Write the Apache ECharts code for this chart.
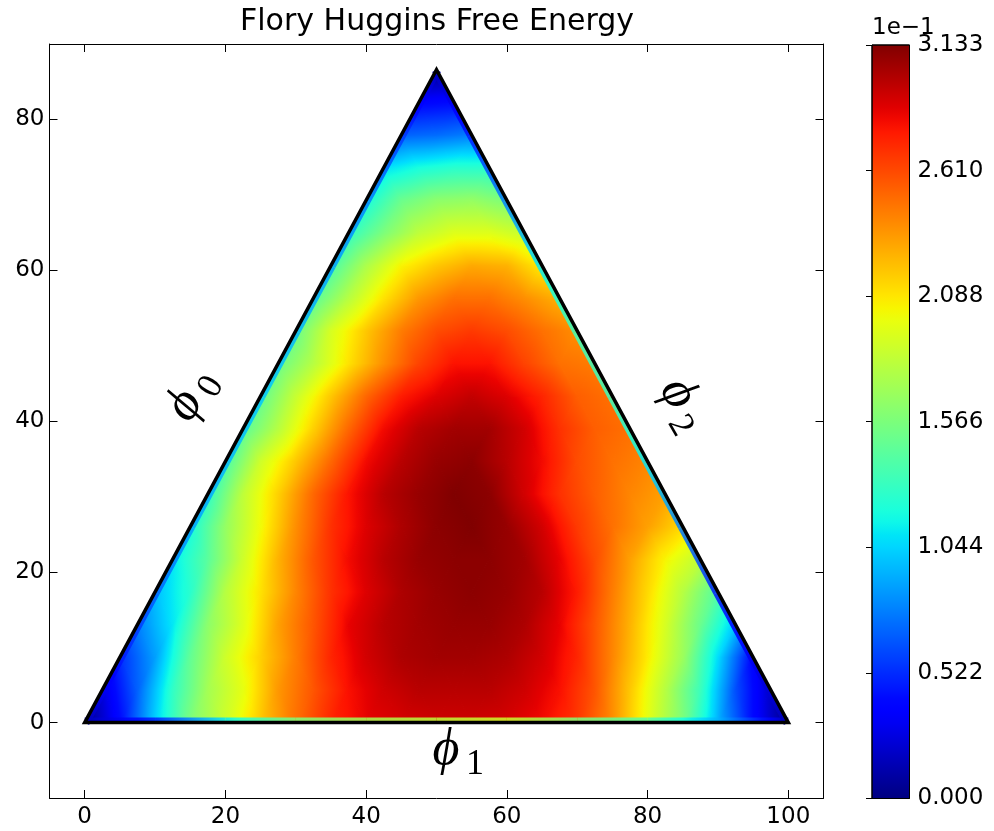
<!DOCTYPE html>
<html><head><meta charset="utf-8">
<script src="https://cdn.jsdelivr.net/npm/echarts@6/dist/echarts.min.js"></script>
<style>html,body{margin:0;padding:0;background:#fff}#chart{width:994px;height:831px}</style>
</head><body><div id="chart"></div>
<script>
// ---------------- data ----------------
const titleText = 'Flory Huggins Free Energy';
const xTicks = [0, 20, 40, 60, 80, 100];
const yTicks = [0, 20, 40, 60, 80];
const colorbarMax = 0.313255;
const colorbarTicks = [0, 0.052209, 0.104418, 0.156628, 0.208837, 0.261046, 0.313255];
const colorbarTickLabels = ['0.000', '0.522', '1.044', '1.566', '2.088', '2.610', '3.133'];
const colorbarOffsetText = '1e\u22121';

// ternary lattice (side 100, step 5); row j lies at height j*step*sqrt(3)/2,
// its points start at x = j*step/2 and go right in steps of 5
const sideLength = 100;
const latticeStep = 5;
const row00 = [0, 0.041, 0.103, 0.157, 0.188, 0.219, 0.248, 0.273, 0.285, 0.290, 0.292, 0.292, 0.290, 0.282, 0.267, 0.238, 0.197, 0.157, 0.094, 0.041, 0];
const row01 = [0.025, 0.069, 0.128, 0.172, 0.197, 0.235, 0.257, 0.280, 0.292, 0.298, 0.298, 0.298, 0.292, 0.280, 0.257, 0.219, 0.179, 0.132, 0.063, 0.019];
const row02 = [0.053, 0.088, 0.147, 0.188, 0.216, 0.244, 0.273, 0.291, 0.301, 0.304, 0.304, 0.301, 0.291, 0.273, 0.241, 0.207, 0.169, 0.107, 0.038];
const row03 = [0.078, 0.110, 0.163, 0.194, 0.232, 0.257, 0.285, 0.298, 0.304, 0.307, 0.307, 0.301, 0.285, 0.257, 0.226, 0.191, 0.150, 0.100];
const row04 = [0.097, 0.125, 0.179, 0.210, 0.241, 0.269, 0.288, 0.301, 0.307, 0.310, 0.307, 0.298, 0.276, 0.244, 0.213, 0.179, 0.141];
const row05 = [0.110, 0.144, 0.188, 0.226, 0.257, 0.282, 0.298, 0.307, 0.310, 0.310, 0.304, 0.285, 0.260, 0.232, 0.204, 0.182];
const row06 = [0.119, 0.166, 0.201, 0.238, 0.269, 0.288, 0.301, 0.310, 0.313, 0.307, 0.291, 0.266, 0.248, 0.232, 0.213];
const row07 = [0.128, 0.182, 0.216, 0.251, 0.279, 0.298, 0.307, 0.313, 0.310, 0.291, 0.269, 0.254, 0.241, 0.232];
const row08 = [0.138, 0.188, 0.219, 0.251, 0.282, 0.298, 0.307, 0.310, 0.298, 0.282, 0.260, 0.248, 0.241];
const row09 = [0.144, 0.179, 0.216, 0.251, 0.282, 0.298, 0.304, 0.304, 0.291, 0.269, 0.254, 0.248];
const row10 = [0.147, 0.185, 0.219, 0.251, 0.276, 0.288, 0.295, 0.288, 0.273, 0.254, 0.248];
const row11 = [0.150, 0.179, 0.210, 0.238, 0.263, 0.279, 0.279, 0.263, 0.248, 0.244];
const row12 = [0.150, 0.191, 0.219, 0.244, 0.260, 0.266, 0.260, 0.248, 0.238];
const row13 = [0.144, 0.179, 0.210, 0.235, 0.248, 0.248, 0.238, 0.226];
const row14 = [0.138, 0.175, 0.204, 0.219, 0.229, 0.226, 0.207];
const row15 = [0.128, 0.157, 0.182, 0.194, 0.194, 0.185];
const row16 = [0.119, 0.150, 0.163, 0.166, 0.157];
const row17 = [0.107, 0.119, 0.125, 0.125];
const row18 = [0.069, 0.072, 0.078];
const row19 = [0.038, 0.041];
const row20 = [0];
const valueRows = [row00, row01, row02, row03, row04, row05, row06, row07, row08, row09, row10,
  row11, row12, row13, row14, row15, row16, row17, row18, row19, row20];

// values of the speckled samples that sit right on each side of the triangle
// (11 samples per side, from the first corner towards the second)
const bottomSideValues = [0.016, 0.047, 0.110, 0.157, 0.172, 0.182, 0.188, 0.157, 0.141, 0.094, 0.016]; // (0,0) -> (100,0)
const leftSideValues = [0.016, 0.047, 0.069, 0.088, 0.094, 0.100, 0.094, 0.088, 0.078, 0.056, 0.016];   // (0,0) -> apex
const rightSideValues = [0.016, 0.031, 0.047, 0.078, 0.110, 0.132, 0.132, 0.110, 0.078, 0.047, 0.016];  // (100,0) -> apex

// ---------------- colormap (matplotlib jet) ----------------
const jetR = [[0, 0], [0.35, 0], [0.66, 1], [0.89, 1], [1, 0.5]];
const jetG = [[0, 0], [0.125, 0], [0.375, 1], [0.64, 1], [0.91, 0], [1, 0]];
const jetB = [[0, 0.5], [0.11, 1], [0.34, 1], [0.65, 0], [1, 0]];
function seg(tab, t) {
  if (t <= tab[0][0]) return tab[0][1];
  for (let k = 1; k < tab.length; k++) {
    if (t <= tab[k][0]) {
      const a = tab[k - 1], b = tab[k];
      return a[1] + (b[1] - a[1]) * (t - a[0]) / (b[0] - a[0]);
    }
  }
  return tab[tab.length - 1][1];
}
function jet(t) {
  t = Math.max(0, Math.min(1, t));
  return 'rgb(' + Math.round(255 * seg(jetR, t)) + ',' + Math.round(255 * seg(jetG, t)) + ',' + Math.round(255 * seg(jetB, t)) + ')';
}

// ---------------- cells (triangles of the lattice) ----------------
const rowHeight = latticeStep * Math.sqrt(3) / 2;
function latticePoint(j, i) {
  return [j * latticeStep / 2 + i * latticeStep, j * rowHeight, valueRows[j][i]];
}
const cells = [];
for (let j = 0; j < valueRows.length - 1; j++) {
  const n = valueRows[j].length;
  for (let i = 0; i < n - 1; i++) {
    cells.push([].concat(latticePoint(j, i), latticePoint(j, i + 1), latticePoint(j + 1, i)));
    if (i < n - 2) cells.push([].concat(latticePoint(j, i + 1), latticePoint(j + 1, i + 1), latticePoint(j + 1, i)));
  }
}
const corners = [[0, 0], [sideLength, 0], [sideLength / 2, sideLength * Math.sqrt(3) / 2]];
const centroid = [sideLength / 2, sideLength * Math.sqrt(3) / 6];
// side segments: [x0, y0, v0, x1, y1, v1]
const sideSegments = [];
[[corners[0], corners[1], bottomSideValues], [corners[0], corners[2], leftSideValues], [corners[1], corners[2], rightSideValues]]
  .forEach(([a, b, vals]) => {
    const n = vals.length - 1;
    for (let k = 0; k < n; k++) {
      const p = k / n, q = (k + 1) / n;
      sideSegments.push([a[0] + (b[0] - a[0]) * p, a[1] + (b[1] - a[1]) * p, vals[k],
        a[0] + (b[0] - a[0]) * q, a[1] + (b[1] - a[1]) * q, vals[k + 1]]);
    }
  });

// smooth (gouraud-like) fill of one triangle through a linear gradient
function gouraudFill(p, t) {
  const tlo = Math.min(t[0], t[1], t[2]), thi = Math.max(t[0], t[1], t[2]);
  if (thi - tlo < 1e-6) return jet(tlo);
  const e1x = p[1][0] - p[0][0], e1y = p[1][1] - p[0][1];
  const e2x = p[2][0] - p[0][0], e2y = p[2][1] - p[0][1];
  const d1 = t[1] - t[0], d2 = t[2] - t[0];
  const det = e1x * e2y - e1y * e2x;
  const gx = (d1 * e2y - d2 * e1y) / det, gy = (e1x * d2 - e2x * d1) / det;
  const g2 = gx * gx + gy * gy;
  const sx = p[0][0] + (tlo - t[0]) / g2 * gx, sy = p[0][1] + (tlo - t[0]) / g2 * gy;
  const ex = p[0][0] + (thi - t[0]) / g2 * gx, ey = p[0][1] + (thi - t[0]) / g2 * gy;
  const K = Math.max(2, Math.ceil((thi - tlo) / 0.02));
  const stops = [];
  for (let k = 0; k <= K; k++) stops.push({ offset: k / K, color: jet(tlo + (thi - tlo) * k / K) });
  return { type: 'linear', x: sx, y: sy, x2: ex, y2: ey, colorStops: stops, global: true };
}
function segmentFill(a, b, ta, tb) {
  if (Math.abs(tb - ta) < 1e-6) return jet(ta);
  const stops = [];
  for (let k = 0; k <= 8; k++) stops.push({ offset: k / 8, color: jet(ta + (tb - ta) * k / 8) });
  return { type: 'linear', x: a[0], y: a[1], x2: b[0], y2: b[1], colorStops: stops, global: true };
}

// ---------------- chart ----------------
const FONT = 'DejaVu Sans';
const tickFont = 23;
const chart = echarts.init(document.getElementById('chart'), null, { renderer: 'canvas' });
const frameAxis = (extra) => Object.assign({
  type: 'value', gridIndex: 0,
  axisLine: { show: true, onZero: false, lineStyle: { color: '#000', width: 1 } },
  splitLine: { show: false }
}, extra);

const option = {
  animation: false,
  backgroundColor: '#fff',
  title: {
    text: titleText, left: 432, top: 2, textAlign: 'center',
    textStyle: { fontFamily: FONT, fontSize: 30, fontWeight: 'normal', color: '#000' }
  },
  grid: [
    { left: 49.5, top: 44, width: 774, height: 754 },
    { left: 872, top: 45, width: 37.5, height: 753.5 }
  ],
  xAxis: [
    frameAxis({ min: -5, max: 105, position: 'bottom',
      axisTick: { show: true, inside: true, length: 8, customValues: xTicks, lineStyle: { color: '#000' } },
      axisLabel: { customValues: xTicks, color: '#000', fontFamily: FONT, fontSize: tickFont, margin: 8 } }),
    frameAxis({ min: -5, max: 105, position: 'top',
      axisTick: { show: true, inside: true, length: 8, customValues: xTicks, lineStyle: { color: '#000' } },
      axisLabel: { show: false } }),
    { type: 'value', gridIndex: 1, min: 0, max: 1, show: false }
  ],
  yAxis: [
    frameAxis({ min: -10, max: 90, position: 'left',
      axisTick: { show: true, inside: true, length: 8, customValues: yTicks, lineStyle: { color: '#000' } },
      axisLabel: { customValues: yTicks, color: '#000', fontFamily: FONT, fontSize: tickFont, margin: 5 } }),
    frameAxis({ min: -10, max: 90, position: 'right',
      axisTick: { show: true, inside: true, length: 8, customValues: yTicks, lineStyle: { color: '#000' } },
      axisLabel: { show: false } }),
    { type: 'value', gridIndex: 1, min: 0, max: colorbarMax, position: 'right',
      axisLine: { show: false }, splitLine: { show: false },
      axisTick: { show: true, inside: true, length: 6, customValues: colorbarTicks, lineStyle: { color: '#000' } },
      axisLabel: { customValues: colorbarTicks, color: '#000', fontFamily: FONT, fontSize: tickFont, margin: 8,
        formatter: (v) => { let best = 0; colorbarTicks.forEach((c, k) => { if (Math.abs(c - v) < Math.abs(colorbarTicks[best] - v)) best = k; }); return colorbarTickLabels[best]; } } }
  ],
  series: [
    {
      type: 'custom', name: 'free energy', xAxisIndex: 0, yAxisIndex: 0, z: 2,
      data: cells, encode: { x: [0, 3, 6], y: [1, 4, 7] }, silent: true,
      renderItem: (params, api) => {
        const p = [0, 1, 2].map(k => api.coord([api.value(3 * k), api.value(3 * k + 1)]));
        const t = [0, 1, 2].map(k => api.value(3 * k + 2) / colorbarMax);
        const fill = gouraudFill(p, t);
        return { type: 'polygon', shape: { points: p }, style: { fill: fill, stroke: fill, lineWidth: 1 } };
      }
    },
    {
      type: 'custom', name: 'side samples', xAxisIndex: 0, yAxisIndex: 0, z: 3, silent: true,
      data: sideSegments, encode: { x: [0, 3], y: [1, 4] },
      renderItem: (params, api) => {
        const a = api.coord([api.value(0), api.value(1)]);
        const b = api.coord([api.value(3), api.value(4)]);
        const c = api.coord(centroid);
        let nx = -(b[1] - a[1]), ny = b[0] - a[0];
        const len = Math.hypot(nx, ny); nx /= len; ny /= len;
        const mx = (a[0] + b[0]) / 2, my = (a[1] + b[1]) / 2;
        if (nx * (c[0] - mx) + ny * (c[1] - my) < 0) { nx = -nx; ny = -ny; }
        const w0 = 1.2, w1 = 5;
        const pts = [[a[0] + nx * w0, a[1] + ny * w0], [b[0] + nx * w0, b[1] + ny * w0],
          [b[0] + nx * w1, b[1] + ny * w1], [a[0] + nx * w1, a[1] + ny * w1]];
        const fill = segmentFill(a, b, api.value(2) / colorbarMax, api.value(5) / colorbarMax);
        return { type: 'polygon', shape: { points: pts }, style: { fill: fill, opacity: 0.85 } };
      }
    },
    {
      type: 'custom', name: 'outline', xAxisIndex: 0, yAxisIndex: 0, z: 5, silent: true,
      data: [[0]],
      renderItem: (params, api) => ({
        type: 'polygon', shape: { points: corners.map(c => api.coord(c)) },
        style: { fill: 'none', stroke: '#000', lineWidth: 3.5, lineJoin: 'miter' }
      })
    },
    {
      type: 'custom', name: 'colorbar', xAxisIndex: 2, yAxisIndex: 2, z: 2, silent: true,
      data: [[0, 0, 1, colorbarMax]],
      renderItem: (params, api) => {
        const a = api.coord([api.value(0), api.value(1)]);
        const b = api.coord([api.value(2), api.value(3)]);
        const stops = [];
        for (let k = 0; k <= 60; k++) stops.push({ offset: k / 60, color: jet(1 - k / 60) });
        return { type: 'rect', shape: { x: a[0], y: b[1], width: b[0] - a[0], height: a[1] - b[1] },
          style: { fill: { type: 'linear', x: 0, y: 0, x2: 0, y2: 1, colorStops: stops }, stroke: '#000', lineWidth: 1 } };
      }
    }
  ]
};
chart.setOption(option);

// annotations: axis names along the triangle sides, and the colorbar offset text
const phiFont = { fontFamily: "'Liberation Serif', 'DejaVu Serif'", fontStyle: 'italic', fontSize: 52, fill: '#000', align: 'center', verticalAlign: 'middle' };
const subFont = { fontFamily: "'Liberation Serif', 'DejaVu Serif'", fontSize: 36, fill: '#000', align: 'center', verticalAlign: 'middle' };
const phiLabels = [
  { sub: '0', at: [15.5, 43.1], rot: Math.PI / 3 },
  { sub: '1', at: [52.9, -4.2], rot: 0 },
  { sub: '2', at: [84.6, 42.1], rot: -Math.PI / 3 }
];
const graphics = phiLabels.map(l => {
  const px = chart.convertToPixel({ gridIndex: 0 }, l.at);
  return {
    type: 'group', x: px[0], y: px[1], rotation: l.rot, z: 10,
    children: [
      { type: 'text', x: -11, y: -4, style: Object.assign({ text: '\u03d5' }, phiFont) },
      { type: 'text', x: 18, y: 10, style: Object.assign({ text: l.sub }, subFont) }
    ]
  };
});
const cbTop = chart.convertToPixel({ xAxisIndex: 2, yAxisIndex: 2 }, [0, colorbarMax]);
graphics.push({ type: 'text', x: cbTop[0], y: cbTop[1] - 5, z: 10,
  style: { text: colorbarOffsetText, fontFamily: FONT, fontSize: tickFont, fill: '#000', align: 'left', verticalAlign: 'bottom' } });
chart.setOption({ graphic: graphics });
</script>
</body></html>
